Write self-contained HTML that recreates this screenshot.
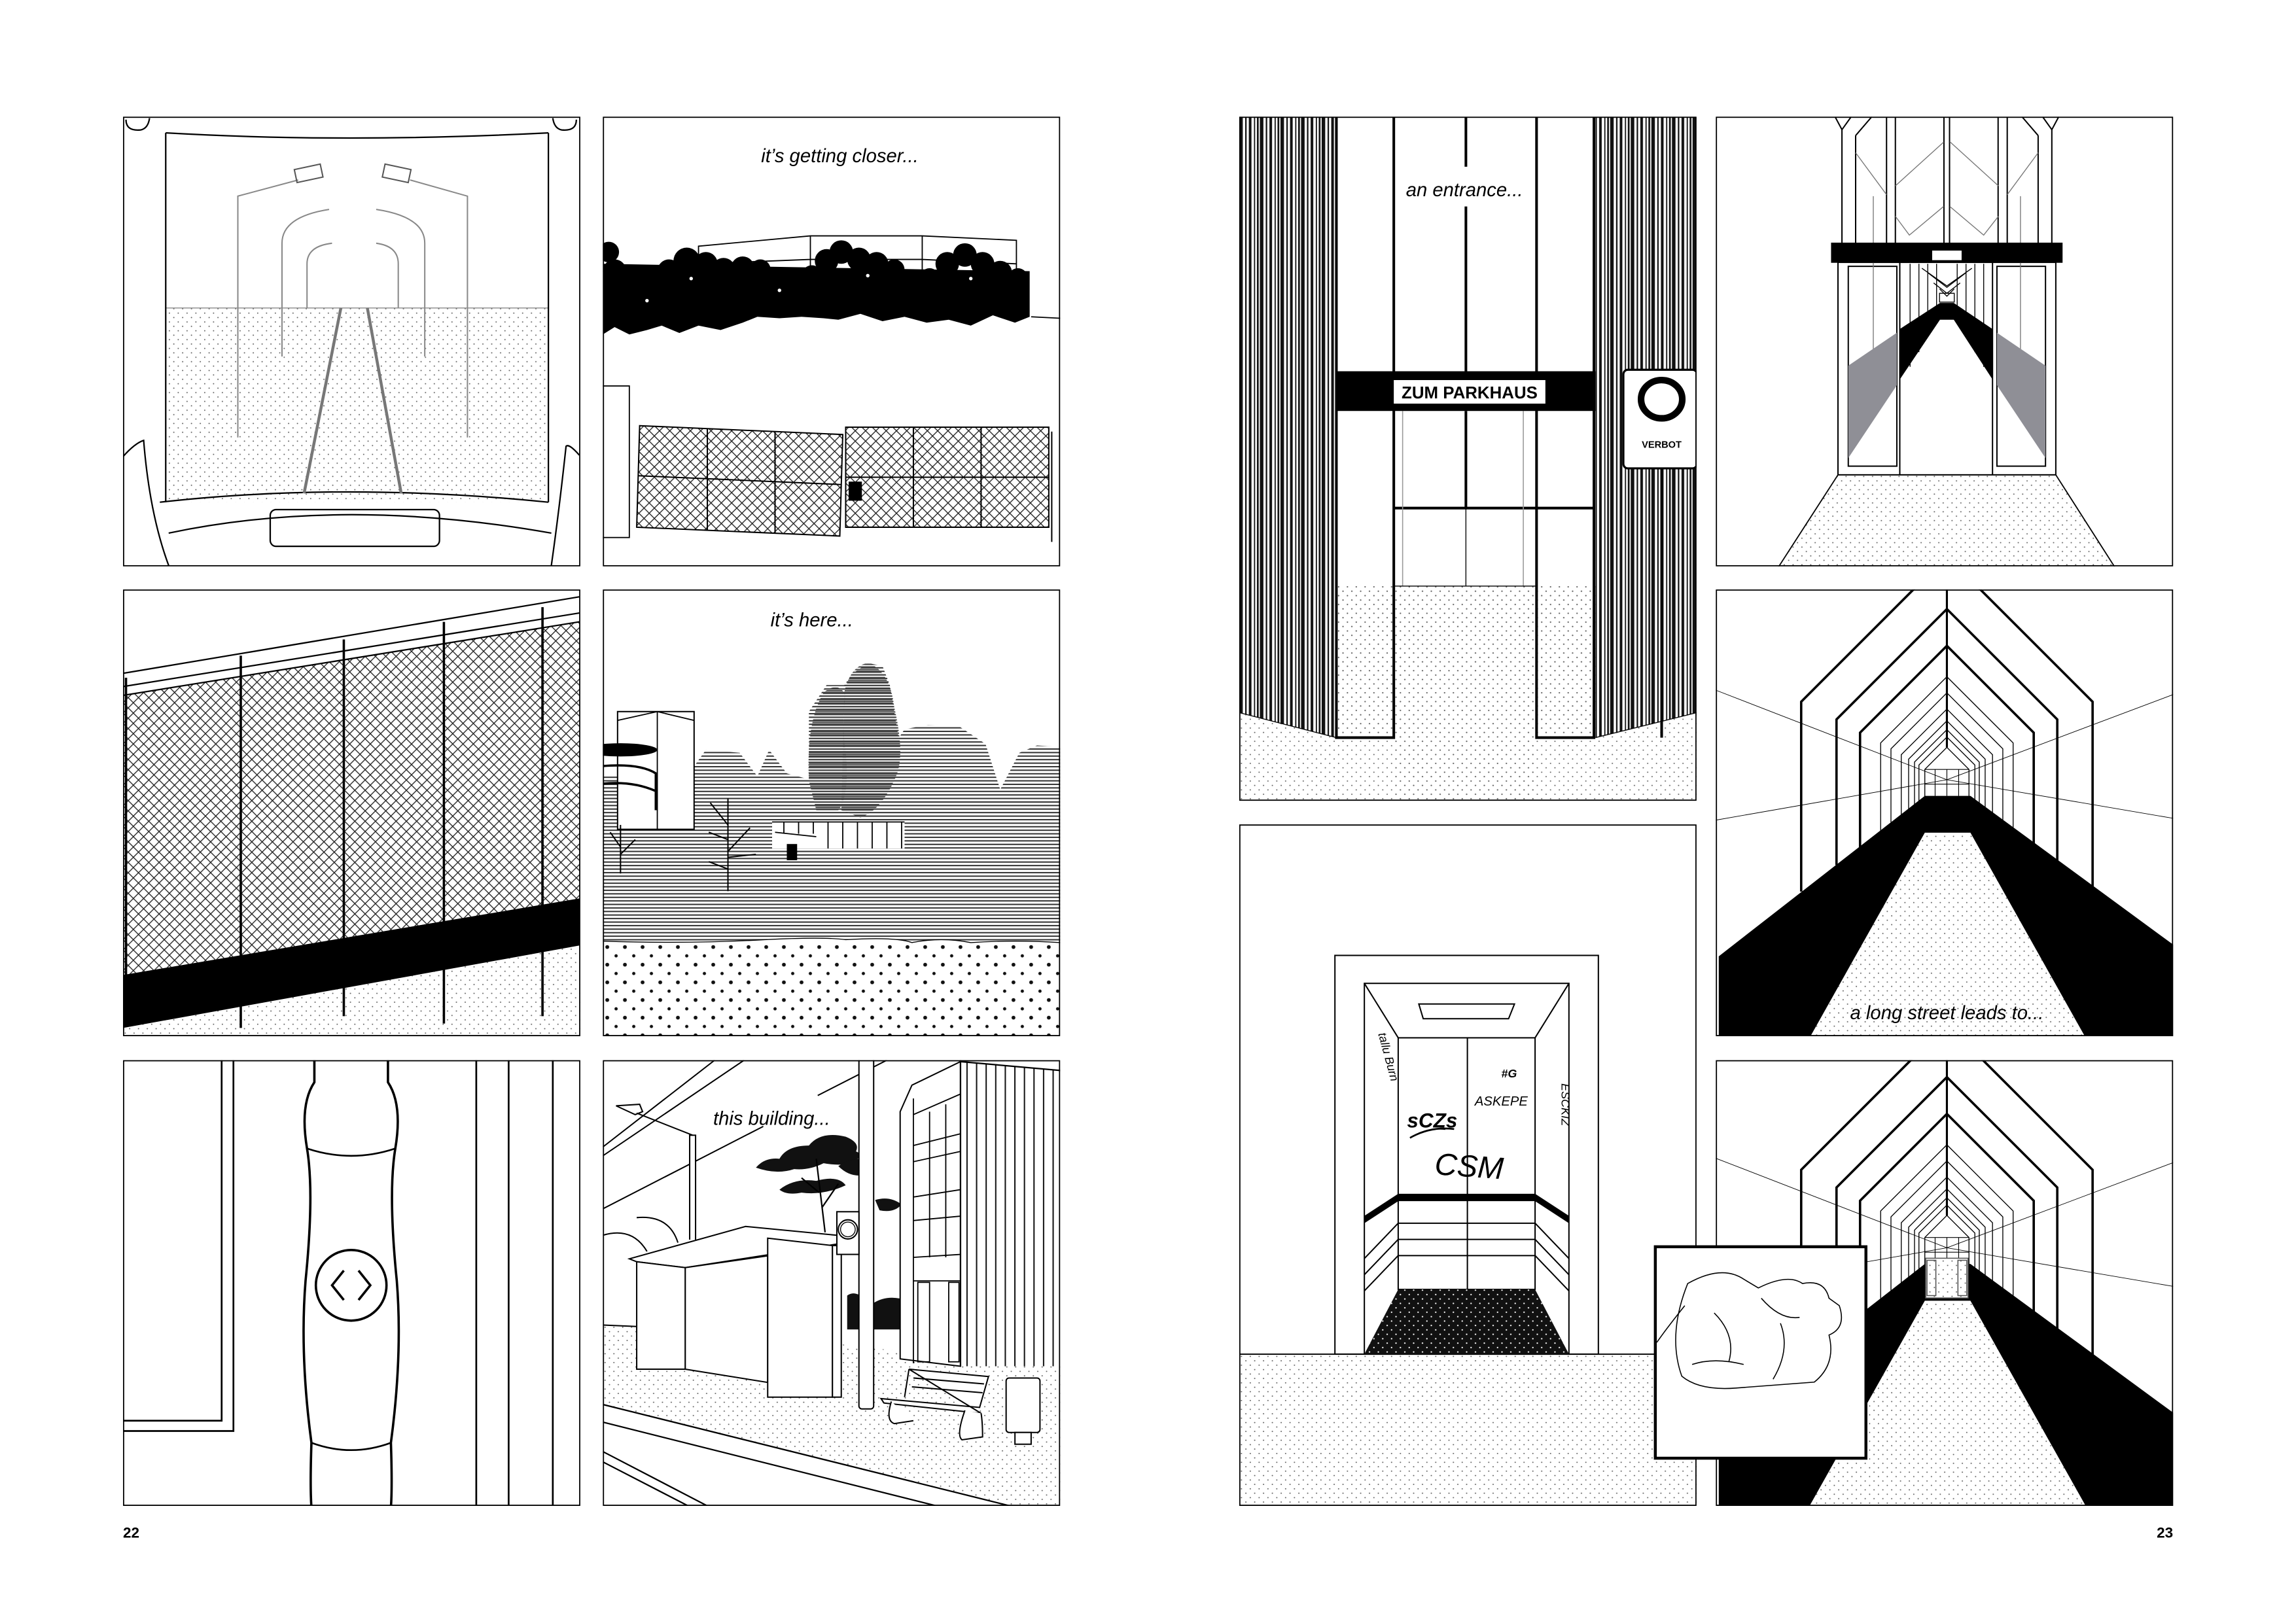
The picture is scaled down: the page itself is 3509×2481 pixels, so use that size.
<!DOCTYPE html>
<html><head><meta charset="utf-8"><style>
html,body{margin:0;padding:0;background:#fff}
svg{display:block}
text{font-family:"Liberation Sans",sans-serif}
</style></head><body>
<svg width="3509" height="2481" viewBox="0 0 1560 1103" preserveAspectRatio="none" xmlns="http://www.w3.org/2000/svg">
<defs>
<pattern id="dots" width="6" height="6" patternUnits="userSpaceOnUse"><circle cx="1.5" cy="1.5" r="0.45" fill="#666"/><circle cx="4.5" cy="4.5" r="0.45" fill="#666"/></pattern>
<pattern id="wdots" width="6" height="6" patternUnits="userSpaceOnUse"><rect width="6" height="6" fill="#111"/><circle cx="1.5" cy="1.5" r="0.5" fill="#fff"/><circle cx="4.5" cy="4.5" r="0.5" fill="#fff"/></pattern>
<pattern id="bigdots" width="12" height="12" patternUnits="userSpaceOnUse"><circle cx="3" cy="3" r="1.3" fill="#111"/><circle cx="9" cy="9" r="1.1" fill="#111"/></pattern>
<pattern id="hatch" width="7" height="7" patternUnits="userSpaceOnUse"><path d="M0,0L7,7M7,0L0,7" stroke="#222" stroke-width="0.6"/></pattern>
<pattern id="stripes" width="4" height="2.4" patternUnits="userSpaceOnUse"><rect width="4" height="0.9" fill="#333"/></pattern>
<pattern id="stripes2" width="4" height="1.8" patternUnits="userSpaceOnUse"><rect width="4" height="0.9" fill="#444"/></pattern>
<pattern id="bars" width="14" height="10" patternUnits="userSpaceOnUse"><rect x="0" width="2.4" height="10" fill="#111"/><rect x="4" width="1" height="10" fill="#111"/><rect x="6.5" width="1.8" height="10" fill="#111"/><rect x="10" width="0.8" height="10" fill="#111"/><rect x="12" width="1.2" height="10" fill="#111"/></pattern>
<pattern id="vstripe" width="6.5" height="10" patternUnits="userSpaceOnUse"><rect width="0.9" height="10" fill="#111"/></pattern>
<clipPath id="c1"><rect width="310.7" height="305.6"/></clipPath>
<clipPath id="c2"><rect width="310.7" height="303.6"/></clipPath>
<clipPath id="c3"><rect width="310.7" height="302.9"/></clipPath>
<clipPath id="c7"><rect width="310.7" height="464.9"/></clipPath>
<clipPath id="c11"><rect width="310.7" height="463.1"/></clipPath>
<g id="corr">
<line x1="-10" y1="66" x2="150" y2="128" stroke="#000" stroke-width="0.4"/><line x1="320" y1="64" x2="150" y2="128" stroke="#000" stroke-width="0.4"/>
<line x1="-10" y1="156" x2="150" y2="128" stroke="#000" stroke-width="0.4"/><line x1="320" y1="157" x2="150" y2="128" stroke="#000" stroke-width="0.4"/>
<g fill="none" stroke="#000">
<path d="M51,204V75L150,-24L249,75V204" stroke-width="1.6"/>
<path d="M75,186V87L150,12L225,87V186" stroke-width="1.6"/>
<path d="M91,174V96L150,37L209,96V174" stroke-width="1.6"/>
<path d="M105,163V103L150,58L195,103V163" stroke-width="0.6"/>
<path d="M112,157V107L150,69L188,107V157" stroke-width="0.6"/>
<path d="M119,152V111L150,80L181,111V152" stroke-width="0.6"/>
<path d="M124,148V114L150,88L176,114V148" stroke-width="0.6"/>
<path d="M128,145V116L150,94L172,116V145" stroke-width="0.6"/>
<path d="M131,143V118L150,99L169,118V143" stroke-width="0.6"/>
<path d="M135,140V121L150,106L165,121V140" stroke-width="0.6"/>
<path d="M135,121H165 M135,131H165 M142,121V139 M150,121V139 M158,121V139" stroke-width="0.5"/>
<line x1="150" y1="-30" x2="150" y2="106" stroke-width="1.4"/>
</g>
<polygon points="-5,248 135,139 166,139 320,252 320,310 -5,310" fill="#000"/>
<polygon points="135,164 166,164 248,310 53,310" fill="#fff"/>
<polygon points="135,164 166,164 248,310 53,310" fill="url(#dots)"/>
</g>
</defs>

<!-- Panel 1 -->
<g transform="translate(83.6,79.3)" clip-path="url(#c1)">
<rect x="29" y="130" width="260" height="132" fill="url(#dots)"/>
<line x1="29" y1="130" x2="289" y2="130" stroke="#888" stroke-width="0.6"/>
<g fill="none" stroke="#000" stroke-width="1">
<path d="M29,11 Q150,18 289,11"/>
<path d="M29,11 V262 M289,11 V262"/>
<path d="M2,2 Q2,10 12,9 Q17,8 18,1 M308,2 Q308,10 298,9 Q293,8 292,1"/>
<path d="M0,231 Q8,222 14,220 Q18,270 31,305 M310,230 Q303,222 301,224 Q296,270 291,305"/>
<path d="M25,262 Q150,248 289,262"/>
<path d="M31,283 Q150,258 291,283"/>
<rect x="100" y="267" width="115" height="25" rx="4"/>
</g>
<g fill="none" stroke="#888" stroke-width="0.9">
<path d="M78,218 V54 L119,43"/><path d="M234,218 V54 L195,43"/>
<path d="M108,163 V86 Q108,68 140,63"/><path d="M205,163 V86 Q205,68 172,63"/>
<path d="M125,130 V100 Q125,88 142,86"/><path d="M187,130 V100 Q187,88 172,86"/>
<rect x="117" y="34" width="18" height="9" stroke="#555" transform="rotate(-12 126 38)"/>
<rect x="177" y="34" width="18" height="9" stroke="#555" transform="rotate(12 186 38)"/>
</g>
<path d="M148,130 L123,256 M166,130 L189,256" stroke="#777" stroke-width="2"/>
<rect x="0" y="0" width="310.7" height="305.6" fill="none" stroke="#000" stroke-width="1.6"/>
</g>

<!-- Panel 2 -->
<g transform="translate(409.6,79.3)" clip-path="url(#c1)">
<text x="161" y="31" font-size="13" font-style="italic" text-anchor="middle">it’s getting closer...</text>
<path d="M65,114 V88 L141,81 L217,81 L281,84 V114 M141,81V114 M217,81V114 M65,100 L141,97 L217,97 L281,100" fill="none" stroke="#000" stroke-width="0.8"/>
<g fill="#000">
<path d="M0,100 L290,105 L290,136 L280,140 L265,135 L250,142 L235,138 L220,140 L205,136 L190,139 L175,134 L160,138 L150,137 L135,136 L120,137 L105,136 L95,140 L80,145 L65,142 L52,147 L40,142 L30,145 L18,148 L8,143 L0,148 Z"/>
<circle cx="4" cy="92" r="7"/><circle cx="8" cy="105" r="8"/><circle cx="20" cy="118" r="8"/><circle cx="30" cy="112" r="7"/>
<circle cx="45" cy="105" r="8"/><circle cx="57" cy="98" r="9"/><circle cx="70" cy="100" r="8"/><circle cx="82" cy="104" r="8"/>
<circle cx="95" cy="103" r="8"/><circle cx="107" cy="104" r="7"/><circle cx="118" cy="110" r="7"/><circle cx="130" cy="111" r="7"/>
<circle cx="142" cy="108" r="7"/><circle cx="152" cy="98" r="8"/><circle cx="162" cy="92" r="8"/><circle cx="174" cy="97" r="8"/>
<circle cx="186" cy="100" r="8"/><circle cx="198" cy="104" r="7"/><circle cx="210" cy="113" r="7"/><circle cx="222" cy="110" r="7"/>
<circle cx="234" cy="100" r="8"/><circle cx="246" cy="94" r="8"/><circle cx="258" cy="100" r="8"/><circle cx="270" cy="106" r="8"/><circle cx="282" cy="110" r="7"/>
</g>
<g fill="#fff"><circle cx="60" cy="110" r="1.2"/><circle cx="120" cy="118" r="1.2"/><circle cx="180" cy="108" r="1.2"/><circle cx="250" cy="110" r="1.2"/><circle cx="30" cy="125" r="1.2"/></g>
<line x1="291" y1="136" x2="311" y2="137" stroke="#000" stroke-width="0.8"/>
<rect x="-1" y="183" width="19" height="103" fill="none" stroke="#000" stroke-width="0.8"/>
<polygon points="25,210 163,216 161,285 23,279" fill="url(#hatch)" stroke="#000" stroke-width="0.9"/>
<polygon points="165,211 303,211 303,279 165,279" fill="url(#hatch)" stroke="#000" stroke-width="0.9"/>
<path d="M71,212V281 M117,214V283 M24,244 L162,250 M211,211V279 M257,211V279 M165,245H303 M305,214V289" stroke="#000" stroke-width="0.9" fill="none"/>
<rect x="167" y="248" width="9" height="13" fill="#000"/>
<rect x="0" y="0" width="310.7" height="305.6" fill="none" stroke="#000" stroke-width="1.6"/>
</g>

<!-- Panel 3 -->
<g transform="translate(83.6,400.6)" clip-path="url(#c2)">
<polygon points="0,275 310,222 311,304 0,304" fill="url(#dots)"/>
<polygon points="0,72 310,22 310,210 0,262" fill="url(#hatch)"/>
<polygon points="0,262 310,210 310,242 0,298" fill="#000"/>
<path d="M0,57 L310,5 M0,66 L310,16 M0,72 L310,22" stroke="#000" stroke-width="1" fill="none"/>
<g stroke="#000" stroke-width="1.6">
<line x1="2" y1="60" x2="2" y2="290"/><line x1="80" y1="45" x2="80" y2="298"/><line x1="150" y1="34" x2="150" y2="290"/><line x1="218" y1="22" x2="218" y2="295"/><line x1="285" y1="12" x2="285" y2="290"/>
</g>
<rect x="0" y="0" width="310.7" height="303.6" fill="none" stroke="#000" stroke-width="1.6"/>
</g>

<!-- Panel 4 -->
<g transform="translate(409.6,400.6)" clip-path="url(#c2)">
<text x="142" y="25" font-size="13" font-style="italic" text-anchor="middle">it’s here...</text>
<polygon points="0,127 60,123 70,109 93,111 105,127 113,109 125,125 140,129 140,83 152,65 164,65 170,57 180,50 190,52 195,65 201,101 205,95 221,92 242,93 260,105 270,136 283,111 295,106 311,107 311,239 0,239" fill="url(#stripes)"/>
<path d="M140,130 Q138,90 150,70 Q160,62 165,72 Q162,90 165,110 Q168,140 160,150 L145,150 Z" fill="url(#stripes2)"/>
<path d="M164,70 Q168,52 180,50 Q195,55 198,80 Q205,110 200,125 Q190,150 175,155 L162,150 Z" fill="url(#stripes2)"/>
<rect x="10" y="83" width="52" height="80" fill="#fff" stroke="#000" stroke-width="0.9"/>
<path d="M37,83 V163 M10,89 L37,83 L62,89" stroke="#000" stroke-width="0.8" fill="none"/>
<ellipse cx="12" cy="109" rx="25" ry="4.5" fill="#000"/>
<path d="M0,120 Q25,118 36,125 V150 M0,132 Q20,130 36,137" fill="none" stroke="#000" stroke-width="1.6"/>
<rect x="115" y="158" width="90" height="18" fill="#fff"/>
<path d="M115,158 H205 M123,158V166 M133,158V166 M143,158V166 M153,158V176 M163,158V176 M173,158V176 M183,158V176 M193,158V176 M203,158V176 M117,165 L145,168" stroke="#000" stroke-width="0.8" fill="none"/>
<rect x="125" y="173" width="7" height="11" fill="#000"/>
<path d="M85,205 V142 M85,160 L73,145 M85,170 L72,165 M85,178 L100,162 M85,190 L72,185 M85,182 L104,180 M12,193 V160 M12,175 L5,165 M12,180 L22,170" stroke="#000" stroke-width="0.9" fill="none"/>
<path d="M0,239 Q60,241 110,238 Q150,236 165,238 Q200,236 210,240 Q230,236 250,240 Q280,238 311,240 V304 H0 Z" fill="#fff"/>
<path d="M0,239 Q60,241 110,238 Q150,236 165,238 Q200,236 210,240 Q230,236 250,240 Q280,238 311,240" fill="none" stroke="#000" stroke-width="0.6"/>
<rect x="0" y="241" width="311" height="63" fill="url(#bigdots)"/>
<rect x="0" y="0" width="310.7" height="303.6" fill="none" stroke="#000" stroke-width="1.6"/>
</g>

<!-- Panel 5 -->
<g transform="translate(83.6,720.5)" clip-path="url(#c3)">
<g fill="none" stroke="#000" stroke-width="1.2">
<path d="M75,0 V252 H0 M67,0 V245 H0"/>
<path d="M240,0 V304 M262,0 V304 M292,0 V304"/>
</g>
<path d="M130,0 V15 Q120,30 125,60 Q130,90 124,150 Q120,200 128,260 Q127,290 128,304 H182 Q183,290 182,260 Q190,200 186,150 Q180,90 185,60 Q190,30 180,15 V0" fill="#fff" stroke="#000" stroke-width="1.6"/>
<path d="M125,60 Q155,70 185,60 M128,260 Q155,270 182,260" fill="none" stroke="#000" stroke-width="1.2"/>
<circle cx="155" cy="153" r="24" fill="#fff" stroke="#000" stroke-width="1.6"/>
<path d="M150,143 L142,153 L150,163 M160,143 L168,153 L160,163" fill="none" stroke="#000" stroke-width="1.6"/>
<rect x="0" y="0" width="310.7" height="302.9" fill="none" stroke="#000" stroke-width="1.6"/>
</g>

<!-- Panel 6 -->
<g transform="translate(409.6,720.5)" clip-path="url(#c3)">
<polygon points="0,180 118,181 170,195 311,205 311,304 0,304" fill="url(#dots)"/>
<polygon points="0,234 285,305 0,305" fill="#fff"/>
<path d="M0,234 L285,305 M0,246 L235,305 M0,266 L75,305 M0,273 L62,305" stroke="#000" stroke-width="1" fill="none"/>
<path d="M0,59 L76,0 M0,65 L96,0 M0,101 L109,45 M146,24 L193,0 M0,180 L23,181" stroke="#000" stroke-width="0.9" fill="none"/>
<path d="M0,119 Q20,113 30,130 M23,107 Q45,105 51,124" stroke="#000" stroke-width="0.9" fill="none"/>
<path d="M59,122 V51 H63 V122 M23,36 L61,51 M9,31 L25,30 L27,35 L22,37 Z" stroke="#000" stroke-width="0.9" fill="#fff"/>
<g fill="#111">
<path d="M104,73 Q110,66 120,67 Q125,58 140,58 Q148,48 165,52 Q175,56 172,62 Q178,64 170,70 Q160,72 150,70 Q140,75 130,74 Q118,78 104,73Z"/>
<path d="M120,88 Q130,80 145,82 Q160,78 165,85 Q150,92 135,90 Q125,92 120,88Z"/>
<path d="M160,72 Q170,65 180,68 Q188,70 178,78 Q168,80 160,72Z"/>
<path d="M185,95 Q195,92 203,98 Q198,104 188,102Z"/>
<path d="M166,160 Q170,157 175,160 L176,183 H166 Z M184,165 Q192,160 202,162 V183 H184 Z"/>
</g>
<path d="M151,117 L145,67 M147,90 L135,80 M149,100 L160,84" stroke="#000" stroke-width="1" fill="none"/>
<polygon points="18,135 97,113 159,119 159,125 56,141 23,137" fill="#fff" stroke="#000" stroke-width="0.9"/>
<polygon points="23,137 56,141 56,210 23,210" fill="#fff" stroke="#000" stroke-width="0.9"/>
<polygon points="56,141 112,133 112,219 56,210" fill="#fff" stroke="#000" stroke-width="0.9"/>
<polygon points="112,121 156,126 156,229 112,229" fill="#fff" stroke="#000" stroke-width="0.9"/>
<rect x="156" y="126" width="6" height="103" fill="#fff" stroke="#000" stroke-width="0.9"/>
<rect x="174" y="-2" width="10" height="239" rx="2" fill="#fff" stroke="#000" stroke-width="0.9"/>
<rect x="159" y="103" width="15" height="29" fill="#fff" stroke="#000" stroke-width="0.9"/>
<circle cx="166.5" cy="115" r="6.5" fill="#fff" stroke="#000" stroke-width="0.9"/><circle cx="166.5" cy="115" r="5" fill="none" stroke="#000" stroke-width="0.6"/>
<polygon points="202,35 210,17 243,1 243,208 202,203" fill="#fff" stroke="#000" stroke-width="0.9"/>
<polygon points="243,1 311,7 311,208 243,208" fill="#fff"/>
<polygon points="245,1 311,7 311,208 245,208" fill="url(#vstripe)"/>
<path d="M243,1 L311,7 M243,0 V208" stroke="#000" stroke-width="1" fill="none"/>
<g stroke="#000" stroke-width="0.8" fill="none">
<path d="M211,26 V206 M211,37 L243,23 M211,58 L243,50 M211,69 L243,62 M211,93 L243,88 M211,109 L243,106 M211,134 L243,132 M211,150 H243 M222,35 V134 M233,30 V134"/>
<rect x="214" y="151" width="8" height="54"/><rect x="235" y="151" width="7" height="54"/>
</g>
<g stroke="#000" stroke-width="0.9" fill="#fff">
<path d="M208,210 L262,215 L256,236 L189,230 L191,233 L257,240 Z"/>
<path d="M196,232 Q192,245 198,247 L211,245 M246,238 Q240,255 244,258 L258,256 Q258,246 257,240"/>
<path d="M208,210 L205,229 M211,216 L259,220 M210,222 L258,226"/>
<rect x="274" y="216" width="23" height="37" rx="2"/>
<rect x="280" y="253" width="11" height="8"/>
</g>
<text x="75" y="44" font-size="13" font-style="italic">this building...</text>
<rect x="0" y="0" width="310.7" height="302.9" fill="none" stroke="#000" stroke-width="1.6"/>
</g>

<!-- Panel 7 -->
<g transform="translate(842,79.3)" clip-path="url(#c7)">
<rect x="0" y="300" width="311" height="165" fill="url(#dots)"/>
<polygon points="0,0 66,0 66,422 0,405" fill="#fff"/>
<polygon points="0,0 66,0 66,422 0,405" fill="url(#bars)"/>
<polygon points="242,0 311,0 311,405 242,422" fill="#fff"/>
<polygon points="242,0 311,0 311,405 242,422" fill="url(#bars)"/>
<path d="M0,405 L66,422 M311,405 L242,422" stroke="#000" stroke-width="0.6"/>
<rect x="66" y="0" width="176" height="319" fill="#fff"/>
<rect x="105" y="319" width="97" height="150" fill="url(#dots)"/>
<rect x="67" y="319" width="38" height="103" fill="url(#dots)"/>
<rect x="202" y="319" width="40" height="103" fill="url(#dots)"/>
<g fill="none" stroke="#000" stroke-width="1.8">
<path d="M66,0 V422 H105 V0 M202,0 V422 H241 V0"/>
<path d="M154,0 V34 M154,61 V173 M105,266 H241 M154,200 V266"/>
</g>
<path d="M111,200V319 M193,200V319" stroke="#999" stroke-width="0.7"/>
<path d="M154,266V319 M105,319 H202" stroke="#000" stroke-width="0.6"/>
<text x="153" y="54" font-size="13" font-style="italic" text-anchor="middle">an entrance...</text>
<rect x="66" y="173" width="176" height="27" fill="#000"/>
<rect x="105" y="179" width="103" height="16" fill="#fff"/>
<text x="156.5" y="191.5" font-size="11.5" font-weight="bold" text-anchor="middle">ZUM PARKHAUS</text>
<line x1="287" y1="239" x2="287" y2="422" stroke="#000" stroke-width="1.8"/>
<rect x="261" y="172" width="50" height="67" rx="3" fill="#fff" stroke="#000" stroke-width="1.4"/>
<ellipse cx="287" cy="192" rx="14" ry="13" fill="none" stroke="#000" stroke-width="4.5"/>
<text x="287" y="225" font-size="6.5" font-weight="bold" text-anchor="middle">VERBOT</text>
<rect x="0" y="0" width="310.7" height="464.9" fill="none" stroke="#000" stroke-width="1.6"/>
</g>

<!-- Panel 11 -->
<g transform="translate(842,560.3)" clip-path="url(#c11)">
<rect x="0" y="360" width="311" height="104" fill="url(#dots)"/>
<line x1="0" y1="360" x2="311" y2="360" stroke="#000" stroke-width="0.8"/>
<g fill="none" stroke="#000" stroke-width="0.9">
<rect x="65" y="89" width="179" height="271"/>
<rect x="85" y="108" width="139" height="252"/>
<rect x="108" y="145" width="93" height="171"/>
<path d="M85,108 L108,145 M224,108 L201,145 M155,145V316"/>
<polygon points="122,122 187,122 183,132 125,132"/>
<path d="M108,271H201 M108,282H201 M108,293H201"/>
<path d="M85,295 L108,271 M85,306 L108,282 M85,317 L108,293 M224,295 L201,271 M224,306 L201,282 M224,317 L201,293"/>
</g>
<polygon points="85,266 108,251 201,251 224,266 224,271 201,256 108,256 85,271" fill="#000"/>
<polygon points="108,316 201,316 224,360 85,360" fill="url(#wdots)"/>
<g font-style="italic" fill="#000">
<text x="133" y="239" font-size="21" font-family="Liberation Sans" transform="rotate(4 150 230)">CSM</text>
<text x="114" y="206" font-size="14" font-weight="bold">sCZs</text>
<text x="160" y="191" font-size="9">ASKEPE</text>
<text x="178" y="172" font-size="8" font-weight="bold">#G</text>
<text x="90" y="142" font-size="8" transform="rotate(75 92 145)">tallu Burn</text>
<text x="215" y="176" font-size="8" transform="rotate(90 217 178)">ESCKIZ</text>
</g>
<path d="M116,213 Q130,205 146,207 M122,210 Q132,206 140,207" stroke="#000" stroke-width="1.2" fill="none"/>
<rect x="0" y="0" width="310.7" height="463.1" fill="none" stroke="#000" stroke-width="1.6"/>
</g>

<!-- Panel 8 -->
<g transform="translate(1165.8,79.3)" clip-path="url(#c1)">
<polygon points="83,243.4 231,243.4 271,306 42.6,306" fill="url(#dots)"/>
<path d="M83,243.4 L42.6,306 M231,243.4 L271,306" stroke="#000" stroke-width="0.8"/>
<g fill="none" stroke="#000" stroke-width="0.9">
<path d="M85.7,8.8V86 M95,12.8V86 M116,0V86 M122,0V86 M155,0V86 M158.8,0V86 M191.8,0V86 M198,0V86 M219,12.8V86 M228.3,8.8V86"/>
<path d="M81,0 L85.7,8.8 L92,0 M95,12.8 L106,0 M233,0 L228.3,8.8 L222,0 M219,12.8 L208,0"/>
<rect x="83" y="99" width="148" height="144.4"/>
<path d="M125,99V243 M188,99V243"/>
<rect x="90" y="101.7" width="33" height="135.8"/>
<rect x="191" y="101.7" width="33" height="135.8"/>
</g>
<g fill="none" stroke="#777" stroke-width="0.6">
<path d="M95,24.5 L116,53 M122,47 L154.8,17.3 M159,17 L192,47 M219,24.5 L198,53 M122,67.7 L131.5,80.5 L154.8,61 M159,61 L182,80.5 L192,67.7 M107,54V180 M207,54V180"/>
</g>
<g fill="none" stroke="#000" stroke-width="0.6">
<path d="M132,100V170 M138,100V160 M144,100V140 M150,100V135 M164,100V135 M170,100V140 M176,100V160 M182,100V170"/>
<path d="M140,103 L157,115 L174,103 M144,106 L157,116 L170,106 M148,113 L157,120 L166,113 M152,117 L157,122 L162,117 M152,120H162V126H152Z"/>
</g>
<polygon points="125,144.3 152.3,126.6 161.7,126.6 188,144.3 188,178.6 161.7,138 152.3,138 125,178.6" fill="#000"/>
<polygon points="90,169.2 123,146.8 123,182.5 90,232" fill="#8f8f96"/>
<polygon points="224,169.2 191,146.8 191,182.5 224,232" fill="#8f8f96"/>
<rect x="78.3" y="85.6" width="157.3" height="13.7" fill="#000"/>
<rect x="147" y="91" width="20" height="6.5" fill="#fff"/>
<rect x="0" y="0" width="310.7" height="305.6" fill="none" stroke="#000" stroke-width="1.6"/>
</g>

<!-- Panel 9 -->
<g transform="translate(1165.8,400.6)" clip-path="url(#c2)">
<use href="#corr" transform="translate(7,1.3)"/>
<text x="157" y="292" font-size="13" font-style="italic" text-anchor="middle">a long street  leads to...</text>
<rect x="0" y="0" width="310.7" height="303.6" fill="none" stroke="#000" stroke-width="1.6"/>
</g>

<!-- Panel 10 -->
<g transform="translate(1165.8,720.5)" clip-path="url(#c3)">
<use href="#corr" transform="translate(7,-0.5)"/>
<rect x="142.6" y="134.6" width="28.8" height="27" fill="#fff"/>
<rect x="142.6" y="134.6" width="28.8" height="27" fill="url(#dots)"/>
<g fill="none" stroke="#555" stroke-width="0.7">
<rect x="142.6" y="134.6" width="28.8" height="27"/>
<rect x="143.5" y="136" width="6" height="24"/><rect x="164.5" y="136" width="6" height="24"/>
</g>
<rect x="0" y="0" width="310.7" height="302.9" fill="none" stroke="#000" stroke-width="1.6"/>
</g>

<!-- Inset -->
<g transform="translate(1124.7,847.3)">
<rect x="0" y="0" width="143.1" height="143.7" fill="#fff" stroke="#000" stroke-width="2"/>
<path d="M22,25 Q45,12 60,22 L70,28 Q90,18 100,25 Q115,22 118,35 L125,40 Q130,55 118,60 Q123,80 108,92 L55,96 Q30,98 18,88 Q8,60 22,25Z M40,45 Q55,60 50,78 M72,35 Q85,50 98,48 M85,52 Q92,70 80,90 M25,80 Q40,75 60,80" fill="none" stroke="#000" stroke-width="0.7"/>
<path d="M1,65 Q8,55 20,40" fill="none" stroke="#000" stroke-width="0.7"/>
</g>

<text x="83.6" y="1045" font-size="10" font-weight="bold">22</text>
<text x="1476.5" y="1045" font-size="10" font-weight="bold" text-anchor="end">23</text>
</svg>
</body></html>
